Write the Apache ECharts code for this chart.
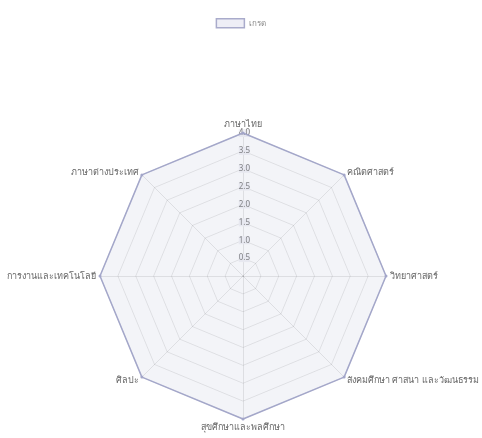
<!DOCTYPE html>
<html>
<head>
<meta charset="utf-8">
<script src="https://cdn.jsdelivr.net/npm/echarts@6/dist/echarts.min.js"></script>
<style>
  html,body{margin:0;padding:0;background:#fff;}
  #chart{width:482px;height:438px;}
</style>
</head>
<body>
<div id="chart"></div>
<script>
'use strict';
// รายวิชา (clockwise from top, as in the picture)
var subjects = ['ภาษาไทย','คณิตศาสตร์','วิทยาศาสตร์','สังคมศึกษา ศาสนา และวัฒนธรรม','สุขศึกษาและพลศึกษา','ศิลปะ','การงานและเทคโนโลยี','ภาษาต่างประเทศ'];
var grades = [4,4,4,4,4,4,4,4];
var seriesName = 'เกรด';
var maxGrade = 4;

// echarts lays indicators out counter-clockwise, so flip everything after the first
function toCcw(arr){
  return [arr[0]].concat(arr.slice(1).reverse());
}
var ccwSubjects = toCcw(subjects);
var ccwGrades = toCcw(grades);

var indicators = ccwSubjects.map(function(s,i){
  var o = {name:s, max:maxGrade, min:0};
  if(i===0){
    o.axisLabel = {show:true};
  }
  return o;
});

var myChart = echarts.init(document.getElementById('chart'));
var option = {
  animation:false,
  textStyle:{fontFamily:'Noto Sans, sans-serif'},
  legend:{
    top:13,
    left:'center',
    itemWidth:28,
    itemHeight:9,
    itemGap:4,
    textStyle:{fontSize:8,color:'#888'},
    data:[{
      name:seriesName,
      icon:'rect',
      itemStyle:{color:'#eeeef6',borderColor:'#a9abcb',borderWidth:1.5}
    }]
  },
  radar:{
    center:[243,276],
    radius:143,
    shape:'polygon',
    startAngle:90,
    splitNumber:8,
    indicator:indicators,
    axisName:{color:'#666',fontSize:9},
    nameGap:4,
    axisLine:{lineStyle:{color:'rgba(0,0,0,0.1)'}},
    splitLine:{lineStyle:{color:'rgba(0,0,0,0.1)'}},
    splitArea:{show:false},
    axisLabel:{
      show:false,
      fontSize:8,
      color:'#777',
      margin:-7,
      showMinLabel:false,
      backgroundColor:'#f1f1f6',
      formatter:function(v){return v.toFixed(1);}
    }
  },
  series:[{
    type:'radar',
    name:seriesName,
    symbol:'circle',
    symbolSize:3,
    itemStyle:{color:'#a3a6c9'},
    lineStyle:{color:'#a3a6c9',width:1.5},
    areaStyle:{color:'rgba(179,181,210,0.22)'},
    data:[{value:ccwGrades,name:seriesName}]
  }]
};
myChart.setOption(option);
</script>
</body>
</html>
